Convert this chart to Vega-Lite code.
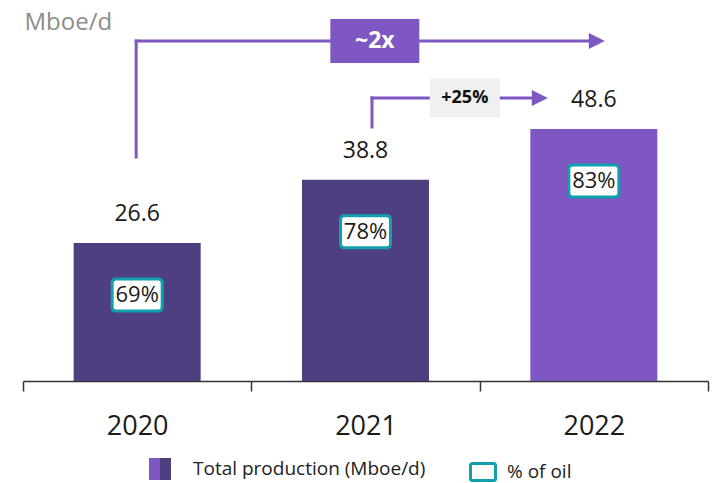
{
  "$schema": "https://vega.github.io/schema/vega-lite/v6.json",
  "width": 685,
  "height": 337,
  "autosize": {"type": "none"},
  "padding": {"left": 23, "top": 44, "right": 8, "bottom": 102},
  "background": "white",
  "config": {"view": {"stroke": null}, "font": "Open Sans"},
  "resolve": {"scale": {"stroke": "independent"}, "legend": {"stroke": "independent"}},
  "datasets": {
    "production": [
      {"year": "2020", "total": 26.6, "oil": 0.69, "series": "Total production (Mboe/d)", "oil_series": "% of oil"},
      {"year": "2021", "total": 38.8, "oil": 0.78, "series": "Total production (Mboe/d)", "oil_series": "% of oil"},
      {"year": "2022", "total": 48.6, "oil": 0.83, "series": "Total production (Mboe/d)", "oil_series": "% of oil"}
    ],
    "growth_total": [
      {"from": "2020", "to": "2022", "level": 65.57, "base": 43.2, "label": "~2x"}
    ],
    "growth_year": [
      {"from": "2021", "to": "2022", "level": 54.58, "base": 49.0, "label": "+25%"}
    ]
  },
  "layer": [
    {
      "data": {"name": "production"},
      "mark": {"type": "bar", "size": 127, "strokeWidth": 0},
      "encoding": {
        "x": {
          "field": "year", "type": "ordinal",
          "scale": {"paddingInner": 0, "paddingOuter": 0},
          "axis": {
            "title": null, "labelAngle": 0, "domainColor": "#333333", "domainWidth": 1.5,
            "tickColor": "#333333", "tickWidth": 1.5, "tickSize": 10, "tickBand": "extent",
            "labelFontSize": 27, "labelColor": "#1a1a1a", "labelPadding": 22, "labelFont": "Open Sans", "grid": false
          }
        },
        "y": {
          "field": "total", "type": "quantitative",
          "scale": {"domain": [0, 65], "nice": false},
          "axis": {
            "title": "Mboe/d", "titleAngle": 0, "titleX": 1, "titleY": -15, "titleAlign": "left",
            "titleBaseline": "alphabetic", "titleFontSize": 24, "titleFontWeight": "normal",
            "titleColor": "#8c8c8c", "titleFont": "Open Sans",
            "domain": false, "ticks": false, "labels": false, "grid": false
          }
        },
        "fill": {
          "field": "series", "type": "nominal",
          "scale": {"range": ["#7E57C2"]},
          "condition": {"test": "datum.year !== '2022'", "value": "#4E4080"},
          "legend": {
            "title": null, "orient": "none", "legendX": 126, "legendY": 414, "padding": 0,
            "symbolType": "M-1,-1H0V1H-1Z", "symbolSize": 484, "symbolStrokeWidth": 0,
            "labelFontSize": 19, "labelColor": "#222222", "labelFont": "Open Sans", "labelOffset": 22, "labelLimit": 0
          }
        },
        "stroke": {
          "field": "year", "type": "nominal",
          "scale": {"range": ["#4E4080", "#4E4080", "#4E4080"]},
          "legend": {
            "title": null, "orient": "none", "legendX": 126, "legendY": 414, "padding": 0,
            "values": ["2022"], "labelExpr": "''",
            "symbolType": "M0,-1H1V1H0Z", "symbolSize": 484, "symbolStrokeWidth": 0,
            "labelFontSize": 19, "labelOffset": 22
          }
        }
      }
    },
    {
      "data": {"name": "production"},
      "mark": {"type": "text", "baseline": "middle", "yOffset": -29, "fontSize": 23, "color": "#1a1a1a"},
      "encoding": {
        "x": {"field": "year", "type": "ordinal"},
        "y": {"field": "total", "type": "quantitative"},
        "text": {"field": "total", "type": "quantitative", "format": ".1f"}
      }
    },
    {
      "data": {"name": "production"},
      "mark": {
        "type": "point",
        "shape": "M-0.84,-0.64H0.84Q1,-0.64 1,-0.48V0.48Q1,0.64 0.84,0.64H-0.84Q-1,0.64 -1,0.48V-0.48Q-1,-0.64 -0.84,-0.64Z",
        "size": 2500, "filled": true, "fill": "white", "strokeWidth": 3, "opacity": 1, "yOffset": 52
      },
      "encoding": {
        "x": {"field": "year", "type": "ordinal"},
        "y": {"field": "total", "type": "quantitative"},
        "stroke": {
          "field": "oil_series", "type": "nominal",
          "scale": {"range": ["#11A0AD"]},
          "legend": {
            "title": null, "orient": "none", "legendX": 446, "legendY": 414, "padding": 0,
            "symbolType": "M-0.84,-0.68H0.84Q1,-0.68 1,-0.52V0.52Q1,0.68 0.84,0.68H-0.84Q-1,0.68 -1,0.52V-0.52Q-1,-0.68 -0.84,-0.68Z",
            "symbolSize": 625, "symbolStrokeWidth": 3, "symbolFillColor": "white",
            "labelFontSize": 19, "labelColor": "#222222", "labelFont": "Open Sans", "labelOffset": 10, "labelLimit": 0
          }
        }
      }
    },
    {
      "data": {"name": "production"},
      "mark": {"type": "text", "baseline": "middle", "yOffset": 52, "fontSize": 22, "color": "#1a1a1a"},
      "encoding": {
        "x": {"field": "year", "type": "ordinal"},
        "y": {"field": "total", "type": "quantitative"},
        "text": {"field": "oil", "type": "quantitative", "format": ".0%"}
      }
    },
    {
      "data": {"name": "growth_total"},
      "layer": [
        {
          "mark": {"type": "rule", "color": "#7E57C2", "strokeWidth": 3, "strokeCap": "square", "xOffset": -1},
          "encoding": {
            "x": {"field": "from", "type": "ordinal"},
            "y": {"field": "base", "type": "quantitative"},
            "y2": {"field": "level"}
          }
        },
        {
          "mark": {"type": "rule", "color": "#7E57C2", "strokeWidth": 3, "strokeCap": "square", "xOffset": -1, "x2Offset": 0},
          "encoding": {
            "x": {"field": "from", "type": "ordinal"},
            "x2": {"field": "to"},
            "y": {"field": "level", "type": "quantitative"}
          }
        },
        {
          "mark": {"type": "point", "shape": "M-1,-1L1,0L-1,1Z", "size": 256, "filled": true, "color": "#7E57C2", "opacity": 1, "xOffset": 3},
          "encoding": {
            "x": {"field": "to", "type": "ordinal"},
            "y": {"field": "level", "type": "quantitative"}
          }
        },
        {
          "mark": {"type": "point", "shape": "M-1,-0.494H1V0.494H-1Z", "size": 7921, "filled": true, "color": "#7E57C2", "opacity": 1, "xOffset": -219},
          "encoding": {
            "x": {"field": "to", "type": "ordinal"},
            "y": {"field": "level", "type": "quantitative"}
          }
        },
        {
          "mark": {"type": "text", "baseline": "middle", "fontSize": 23, "fontWeight": "bold", "color": "white", "xOffset": -219},
          "encoding": {
            "x": {"field": "to", "type": "ordinal"},
            "y": {"field": "level", "type": "quantitative"},
            "text": {"field": "label"}
          }
        }
      ]
    },
    {
      "data": {"name": "growth_year"},
      "layer": [
        {
          "mark": {"type": "rule", "color": "#7E57C2", "strokeWidth": 3, "strokeCap": "square", "xOffset": 6.5},
          "encoding": {
            "x": {"field": "from", "type": "ordinal"},
            "y": {"field": "base", "type": "quantitative"},
            "y2": {"field": "level"}
          }
        },
        {
          "mark": {"type": "rule", "color": "#7E57C2", "strokeWidth": 3, "strokeCap": "square", "xOffset": 6.5, "x2Offset": -62},
          "encoding": {
            "x": {"field": "from", "type": "ordinal"},
            "x2": {"field": "to"},
            "y": {"field": "level", "type": "quantitative"}
          }
        },
        {
          "mark": {"type": "point", "shape": "M-1,-1L1,0L-1,1Z", "size": 256, "filled": true, "color": "#7E57C2", "opacity": 1, "xOffset": -54},
          "encoding": {
            "x": {"field": "to", "type": "ordinal"},
            "y": {"field": "level", "type": "quantitative"}
          }
        },
        {
          "mark": {"type": "point", "shape": "M-1,-0.557H1V0.557H-1Z", "size": 4900, "filled": true, "color": "#F0F0F0", "opacity": 1, "xOffset": -129},
          "encoding": {
            "x": {"field": "to", "type": "ordinal"},
            "y": {"field": "level", "type": "quantitative"}
          }
        },
        {
          "mark": {"type": "text", "baseline": "middle", "fontSize": 18, "fontWeight": "bold", "color": "#111111", "xOffset": -129},
          "encoding": {
            "x": {"field": "to", "type": "ordinal"},
            "y": {"field": "level", "type": "quantitative"},
            "text": {"field": "label"}
          }
        }
      ]
    }
  ]
}
